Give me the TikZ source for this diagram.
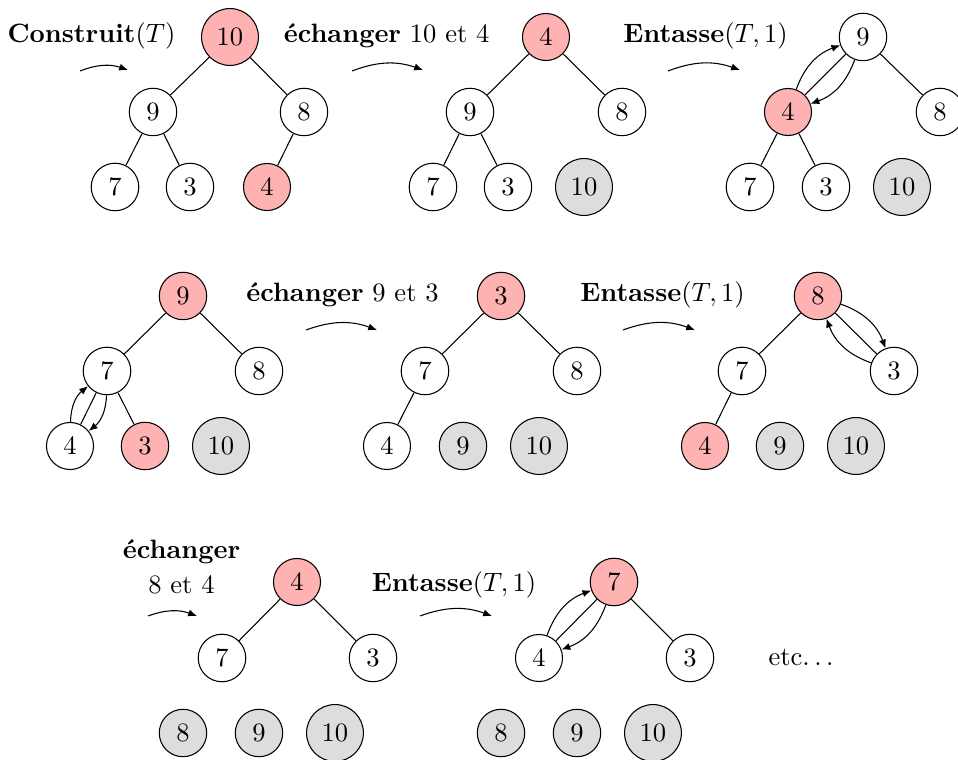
\documentclass[tikz,border=0pt]{standalone}
\usetikzlibrary{arrows.meta}
\definecolor{pinkfill}{RGB}{255,178,178}
\definecolor{grayfill}{RGB}{221,221,221}
\begin{document}
\begin{tikzpicture}[x=0.013245cm, y=-0.013245cm,
  nd/.style={circle, draw},
  hot/.style={nd, fill=pinkfill},
  done/.style={nd, fill=grayfill},
  lbl/.style={inner sep=0pt, anchor=base},
  flow/.style={-{Latex[length=3.3pt,width=2.7pt]}},
  swap/.style={-{Latex[length=3.3pt,width=2.7pt]}, bend left=25}]
\useasboundingbox (0,0) rectangle (958,760);

% ---- step 1: heap built
\node[lbl] (t1) at (91.5,43) {\textbf{Construit}$(T)$};
\coordinate (s1) at (80,71); \coordinate (e1) at (128,70);
\draw[flow] (s1) to[bend left=20] (e1);
\node[hot]  (a1) at (230,37)  {10};
\node[nd]   (a2) at (153,112) {9};
\node[nd]   (a3) at (304,112) {8};
\node[nd]   (a4) at (115,187) {7};
\node[nd]   (a5) at (190,187) {3};
\node[hot]  (a6) at (267,187) {4};
\draw (a1) -- (a2) (a1) -- (a3) (a2) -- (a4) (a2) -- (a5) (a3) -- (a6);

% ---- step 2: swap 10 and 4
\node[lbl, anchor=base east] (t2) at (490,43) {\textbf{échanger} 10 et 4};
\coordinate (s2) at (352,71); \coordinate (e2) at (423,70);
\draw[flow] (s2) to[bend left=20] (e2);
\node[hot]  (b1) at (546,37)  {4};
\node[nd]   (b2) at (470,112) {9};
\node[nd]   (b3) at (622,112) {8};
\node[nd]   (b4) at (433,187) {7};
\node[nd]   (b5) at (508,187) {3};
\node[done] (b6) at (584,187) {10};
\draw (b1) -- (b2) (b1) -- (b3) (b2) -- (b4) (b2) -- (b5);

% ---- step 3: sift down
\node[lbl] (t3) at (705.5,43) {\textbf{Entasse}$(T,1)$};
\coordinate (s3) at (668,71); \coordinate (e3) at (740,70);
\draw[flow] (s3) to[bend left=20] (e3);
\node[nd]   (c1) at (863,37)  {9};
\node[hot]  (c2) at (788,112) {4};
\node[nd]   (c3) at (940,112) {8};
\node[nd]   (c4) at (750,187) {7};
\node[nd]   (c5) at (826,187) {3};
\node[done] (c6) at (902,187) {10};
\draw (c1) -- (c2) (c1) -- (c3) (c2) -- (c4) (c2) -- (c5);
\draw[swap] (c2) to (c1);
\draw[swap] (c1) to (c2);

% ---- step 4
\node[hot]  (d1) at (183,296) {9};
\node[nd]   (d2) at (107,371) {7};
\node[nd]   (d3) at (259,371) {8};
\node[nd]   (d4) at (70,446)  {4};
\node[hot]  (d5) at (145,446) {3};
\node[done] (d6) at (221,446) {10};
\draw (d1) -- (d2) (d1) -- (d3) (d2) -- (d4) (d2) -- (d5);
\draw[swap] (d4) to (d2);
\draw[swap] (d2) to (d4);

% ---- step 5: swap 9 and 3
\node[lbl] (t5) at (342.5,302) {\textbf{échanger} 9 et 3};
\coordinate (s5) at (306,330); \coordinate (e5) at (377,330);
\draw[flow] (s5) to[bend left=20] (e5);
\node[hot]  (f1) at (501,296) {3};
\node[nd]   (f2) at (425,371) {7};
\node[nd]   (f3) at (577,371) {8};
\node[nd]   (f4) at (387,446) {4};
\node[done] (f5) at (463,446) {9};
\node[done] (f6) at (539,446) {10};
\draw (f1) -- (f2) (f1) -- (f3) (f2) -- (f4);

% ---- step 6: sift down
\node[lbl] (t6) at (662.5,302) {\textbf{Entasse}$(T,1)$};
\coordinate (s6) at (623,330); \coordinate (e6) at (695,330);
\draw[flow] (s6) to[bend left=20] (e6);
\node[hot]  (g1) at (818,296) {8};
\node[nd]   (g2) at (742,371) {7};
\node[nd]   (g3) at (894,371) {3};
\node[hot]  (g4) at (705,446) {4};
\node[done] (g5) at (780,446) {9};
\node[done] (g6) at (856,446) {10};
\draw (g1) -- (g2) (g1) -- (g3) (g2) -- (g4);
\draw[swap] (g1) to (g3);
\draw[swap] (g3) to (g1);

% ---- step 7: swap 8 and 4
\node[inner sep=0pt, align=center] (t7) at (181.5,567) {\textbf{échanger}\\[1.5pt] 8 et 4};
\coordinate (s7) at (148,616); \coordinate (e7) at (197,616);
\draw[flow] (s7) to[bend left=20] (e7);
\node[hot]  (h1) at (297,582) {4};
\node[nd]   (h2) at (222,658) {7};
\node[nd]   (h3) at (373,658) {3};
\node[done] (h4) at (183,733) {8};
\node[done] (h5) at (259,733) {9};
\node[done] (h6) at (335,733) {10};
\draw (h1) -- (h2) (h1) -- (h3);

% ---- step 8: sift down
\node[lbl] (t8) at (454,592) {\textbf{Entasse}$(T,1)$};
\coordinate (s8) at (420,616); \coordinate (e8) at (492,616);
\draw[flow] (s8) to[bend left=20] (e8);
\node[hot]  (k1) at (614,582) {7};
\node[nd]   (k2) at (539,658) {4};
\node[nd]   (k3) at (690,658) {3};
\node[done] (k4) at (501,733) {8};
\node[done] (k5) at (577,733) {9};
\node[done] (k6) at (653,733) {10};
\draw (k1) -- (k2) (k1) -- (k3);
\draw[swap] (k2) to (k1);
\draw[swap] (k1) to (k2);

\node[lbl] (etc) at (801,666) {etc.\kern1.67pt.\kern1.67pt.};
\end{tikzpicture}
\end{document}
